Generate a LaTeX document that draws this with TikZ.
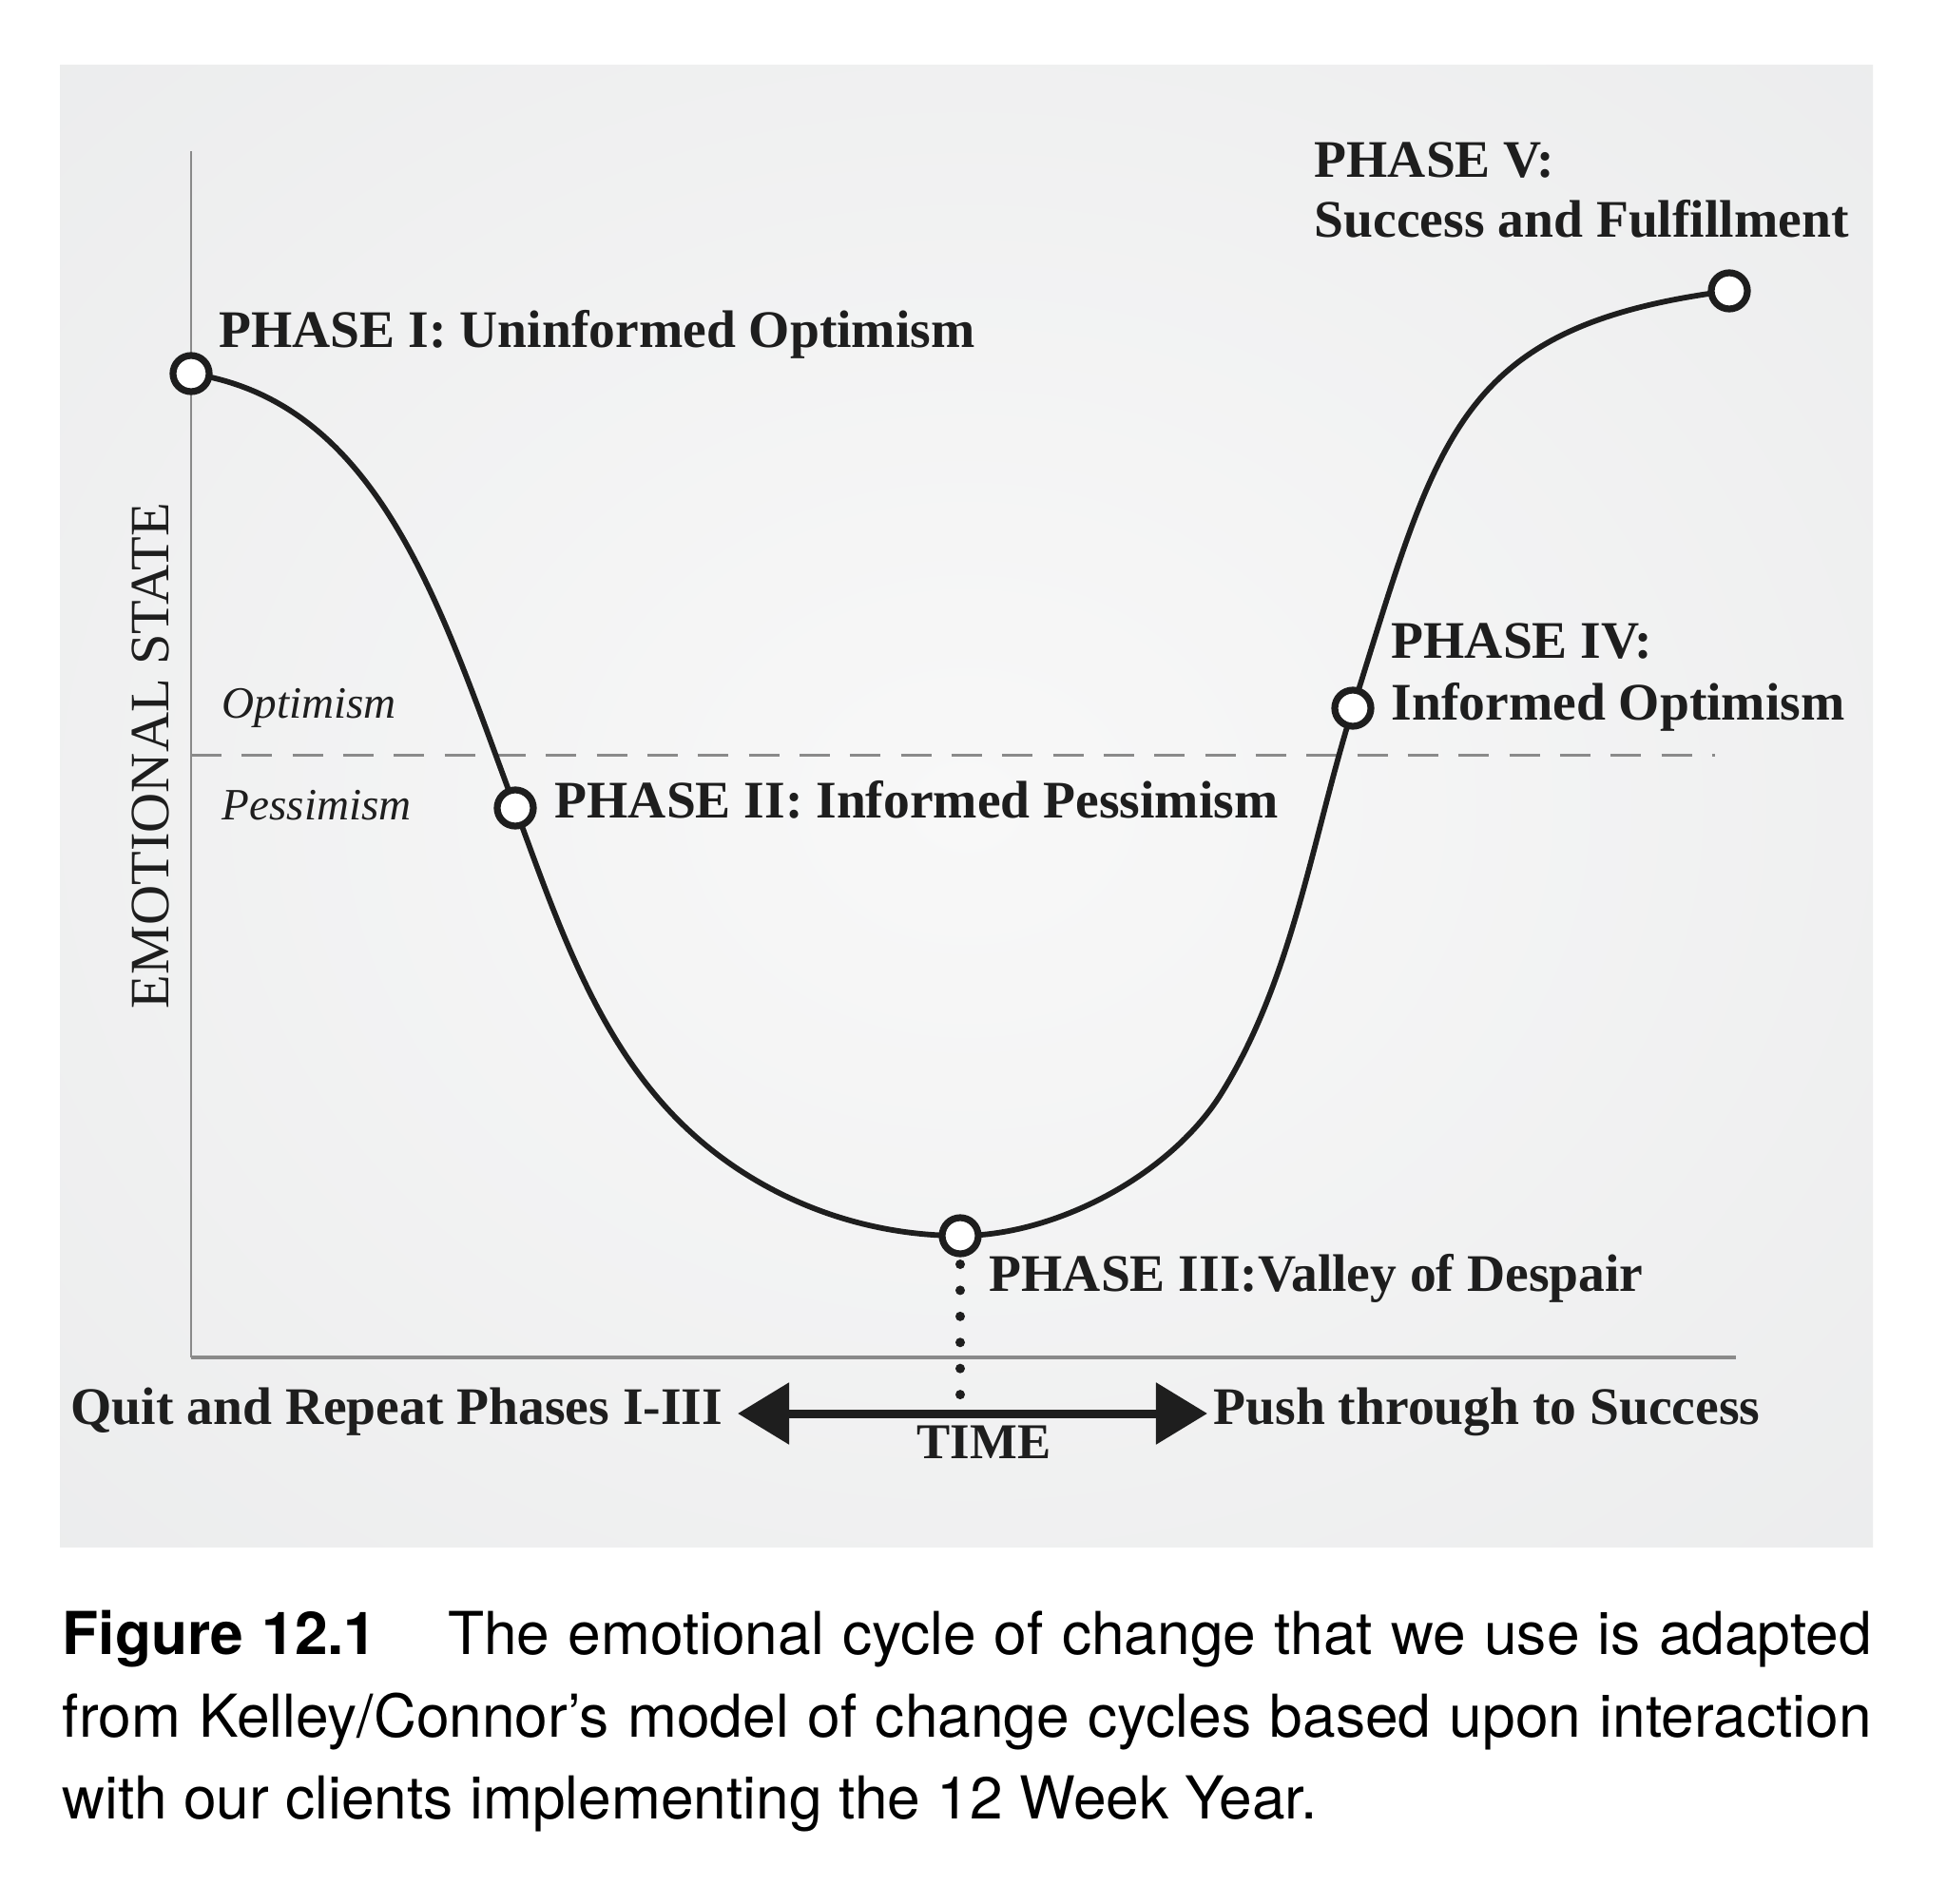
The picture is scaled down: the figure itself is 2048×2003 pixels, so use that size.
\documentclass[tikz,border=0pt]{standalone}
\usepackage{fontspec}
\setmainfont{Liberation Serif}
\newfontfamily\capfont{TeX Gyre Heros}
\usetikzlibrary{arrows.meta}
\definecolor{ink}{HTML}{1E1E1E}
\definecolor{axisgray}{HTML}{8A8A8A}
\definecolor{pin}{HTML}{F8F8F8}
\definecolor{pmid}{HTML}{E7E8E9}
\definecolor{pout}{HTML}{DDDEDF}
\pgfdeclareradialshading{panelshade}{\pgfpoint{0bp}{0bp}}{color(0bp)=(pin); color(50bp)=(pmid); color(72bp)=(pout)}
\begin{document}
\begin{tikzpicture}[x=0.01cm,y=-0.01cm,
  lab/.style={font=\fontsize{15.8}{18}\selectfont\bfseries, text=ink, inner sep=0pt, anchor=base west},
  ital/.style={font=\fontsize{13.4}{16}\selectfont\itshape, text=ink, inner sep=0pt, anchor=base west},
  phase/.style={circle, draw=ink, fill=white, line width=0.072cm, minimum size=0.38cm, inner sep=0pt},
  capline/.style={font=\capfont\fontsize{17.7}{20}\selectfont, text=black, inner sep=0pt, anchor=base west}]
\fill[white] (0,0) rectangle (2048,2003);
\useasboundingbox (0,0) rectangle (2048,2003);
\shade[shading=panelshade] (63,69) rectangle (1970,1627);
% axes
\coordinate (ytop) at (201,159);
\coordinate (orig) at (201,1428);
\coordinate (xend) at (1826,1428);
\draw[axisgray, line width=0.027cm] (ytop) -- (orig);
\draw[axisgray, line width=0.034cm] (orig) -- (xend);
% optimism / pessimism divider
\coordinate (d0) at (201,794);
\coordinate (d1) at (1804,794);
\draw[axisgray, line width=0.03cm, dash pattern=on 0.32cm off 0.213cm] (d0) -- (d1);
% phase positions
\coordinate (q1) at (201,393);
\coordinate (q2) at (542,850);
\coordinate (qm) at (714,1179);
\coordinate (q3) at (1010,1300);
\coordinate (qn) at (1283,1153);
\coordinate (q4) at (1423,745);
\coordinate (q5) at (1819,306);
% curve
\draw[ink, line width=0.058cm]
  (q1) .. controls (401,423) and (465,644) .. (q2)
       .. controls (585,966) and (626,1091) .. (qm)
       .. controls (792,1257) and (900,1300) .. (q3)
       .. controls (1110,1300) and (1229,1237) .. (qn)
       .. controls (1360,1031) and (1380,882) .. (q4)
       .. controls (1513,459) and (1531,343) .. (q5);
% phase markers
\node[phase] (p1) at (q1) {};
\node[phase] (p2) at (q2) {};
\node[phase] (p3) at (q3) {};
\node[phase] (p4) at (q4) {};
\node[phase] (p5) at (q5) {};
% dotted drop line
\coordinate (dtop) at (1010,1330);
\coordinate (dbot) at (1010,1470);
\draw[ink, line width=0.1cm, line cap=round, dash pattern=on 0pt off 0.274cm] (dtop) -- (dbot);
% time arrow
\coordinate (al) at (776,1487);
\coordinate (ar) at (1270,1487);
\draw[ink, line width=0.09cm, {Triangle[length=0.54cm,width=0.63cm]}-{Triangle[length=0.54cm,width=0.63cm]}] (al) -- (ar);
% labels
\node[lab] (l1) at (230,366) {PHASE I: Uninformed Optimism};
\node[lab] (l2) at (583,860) {PHASE II: Informed Pessimism};
\node[lab] (l3) at (1040,1358) {PHASE III:Valley of Despair};
\node[lab] (l4a) at (1463,692) {PHASE IV:};
\node[lab] (l4b) at (1463,757) {Informed Optimism};
\node[lab] (l5a) at (1382,186) {PHASE V:};
\node[lab] (l5b) at (1382,249) {Success and Fulfillment};
\node[ital] (opt) at (233,755) {Optimism};
\node[ital] (pes) at (233,862) {Pessimism};
\node[font=\fontsize{16.6}{18}\selectfont, text=ink, inner sep=0pt, anchor=base, rotate=90] (ylab) at (177,795) {EMOTIONAL STATE};
\node[lab] (quit) at (74,1498) {Quit and Repeat Phases I-III};
\node[lab] (push) at (1276,1498) {Push through to Success};
\node[lab, anchor=base, font=\fontsize{15}{18}\selectfont\bfseries] (time) at (1035,1534) {TIME};
% caption
\node[capline] (c1) at (65,1740) {\makebox[19.02cm][s]{\textbf{Figure 12.1}\hspace{1.2em}The emotional cycle of change that we use is adapted}};
\node[capline] (c2) at (65,1827) {\makebox[19.02cm][s]{from Kelley/Connor’s model of change cycles based upon interaction}};
\node[capline] (c3) at (65,1913) {with our clients implementing the 12 Week Year.};
\end{tikzpicture}
\end{document}
